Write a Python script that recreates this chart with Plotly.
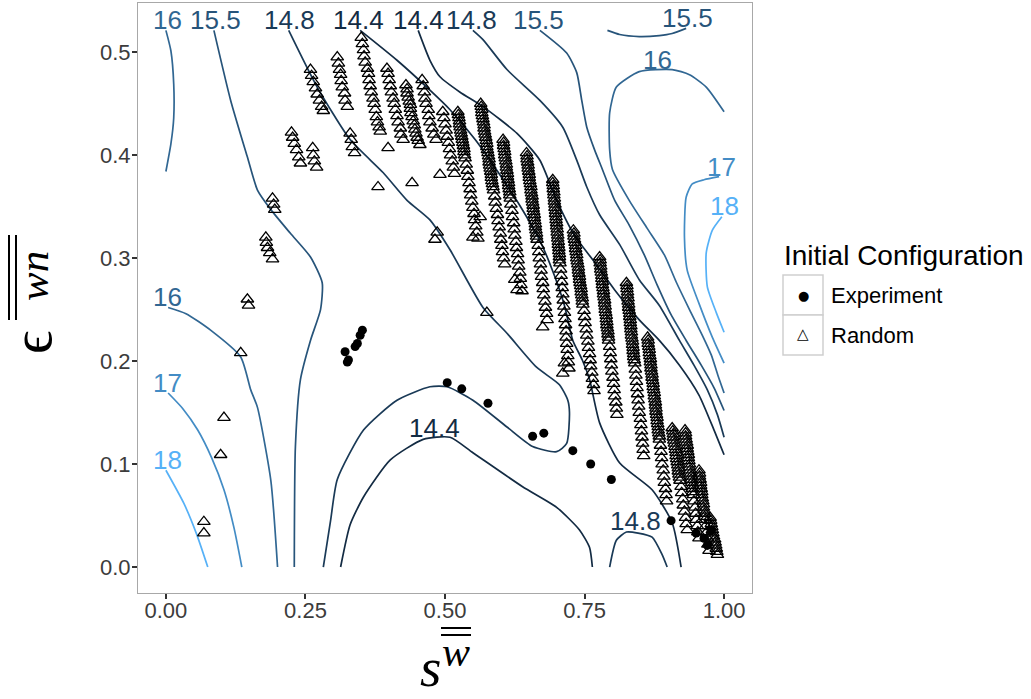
import plotly.graph_objects as go

# ---------------- contour lines (level -> path in data units) ----------------
l16_a_x = [0.000, 0.009, 0.014, 0.014, 0.009, 0.000]
l16_a_y = [0.521, 0.501, 0.469, 0.436, 0.411, 0.384]

l155_a_x = [0.086, 0.116, 0.146, 0.164, 0.188, 0.223, 0.259, 0.280, 0.277, 0.259, 0.241, 0.232, 0.230]
l155_a_y = [0.521, 0.453, 0.398, 0.366, 0.347, 0.324, 0.301, 0.276, 0.250, 0.220, 0.182, 0.117, 0.000]

l16_b_x = [0.004, 0.036, 0.080, 0.134, 0.152, 0.164, 0.188, 0.200]
l16_b_y = [0.252, 0.246, 0.230, 0.204, 0.172, 0.155, 0.084, 0.000]

l17_a_x = [0.004, 0.030, 0.057, 0.082, 0.104, 0.122, 0.136]
l17_a_y = [0.169, 0.154, 0.133, 0.106, 0.075, 0.038, 0.000]

l18_a_x = [0.000, 0.032, 0.055, 0.075]
l18_a_y = [0.094, 0.062, 0.032, 0.000]

l148_a_x = [0.220, 0.271, 0.330, 0.389, 0.432, 0.473, 0.509, 0.568, 0.611, 0.664, 0.705, 0.720,
            0.723, 0.718, 0.700, 0.657, 0.611, 0.550, 0.504, 0.473, 0.414, 0.354, 0.307, 0.295, 0.282]
l148_a_y = [0.521, 0.466, 0.415, 0.383, 0.356, 0.337, 0.308, 0.252, 0.227, 0.194, 0.177, 0.162,
            0.150, 0.120, 0.112, 0.117, 0.136, 0.162, 0.175, 0.175, 0.162, 0.133, 0.085, 0.045, 0.000]

l144_b_x = [0.313, 0.330, 0.354, 0.402, 0.461, 0.509, 0.550, 0.639, 0.700, 0.741, 0.759, 0.764]
l144_b_y = [0.000, 0.041, 0.068, 0.104, 0.124, 0.126, 0.111, 0.078, 0.058, 0.036, 0.019, 0.000]

l148_c_x = [0.795, 0.807, 0.825, 0.846, 0.871, 0.889, 0.898]
l148_c_y = [0.000, 0.026, 0.034, 0.033, 0.029, 0.012, 0.000]

l144_a_x = [0.348, 0.414, 0.473, 0.509, 0.554, 0.598, 0.634, 0.670, 0.696, 0.714, 0.729, 0.746,
            0.759, 0.777, 0.813, 0.871, 0.907, 0.923]
l144_a_y = [0.521, 0.492, 0.463, 0.444, 0.415, 0.381, 0.351, 0.317, 0.283, 0.254, 0.220, 0.201,
            0.182, 0.140, 0.101, 0.075, 0.043, 0.000]

l144_c_x = [0.452, 0.473, 0.491, 0.527, 0.568, 0.629, 0.670, 0.700, 0.732, 0.768, 0.804, 0.848,
            0.884, 0.920, 0.955, 0.982, 1.000]
l144_c_y = [0.521, 0.492, 0.476, 0.461, 0.447, 0.421, 0.395, 0.356, 0.322, 0.296, 0.269, 0.240,
            0.220, 0.196, 0.167, 0.133, 0.109]

l148_b_x = [0.550, 0.568, 0.611, 0.670, 0.711, 0.736, 0.754, 0.777, 0.813, 0.848, 0.884, 0.920,
            0.946, 0.970, 0.988, 1.000]
l148_b_y = [0.521, 0.512, 0.483, 0.453, 0.427, 0.395, 0.369, 0.342, 0.313, 0.279, 0.254, 0.220,
            0.196, 0.172, 0.148, 0.126]

l155_b_x = [0.670, 0.718, 0.736, 0.745, 0.754, 0.768, 0.782, 0.804, 0.830, 0.857, 0.880, 0.905,
            0.932, 0.959, 0.982, 1.000]
l155_b_y = [0.521, 0.499, 0.480, 0.453, 0.427, 0.405, 0.386, 0.356, 0.332, 0.303, 0.274, 0.245,
            0.220, 0.196, 0.174, 0.152]

l155_c_x = [0.791, 0.813, 0.848, 0.884, 0.907, 0.932]
l155_c_y = [0.521, 0.517, 0.515, 0.516, 0.518, 0.523]

l16_c_x = [1.000, 0.968, 0.938, 0.907, 0.848, 0.807, 0.795, 0.795, 0.800, 0.830, 0.862, 0.893,
           0.914, 0.938, 0.961, 0.977, 0.989, 1.000]
l16_c_y = [0.442, 0.466, 0.478, 0.483, 0.481, 0.466, 0.441, 0.405, 0.386, 0.356, 0.329, 0.303,
           0.277, 0.250, 0.225, 0.206, 0.186, 0.169]

l17_b_x = [0.991, 0.964, 0.943, 0.932, 0.929, 0.934, 0.955, 0.979, 1.000]
l17_b_y = [0.379, 0.376, 0.372, 0.359, 0.320, 0.288, 0.256, 0.223, 0.198]

l18_b_x = [0.996, 0.979, 0.968, 0.970, 0.986, 1.000]
l18_b_y = [0.340, 0.327, 0.305, 0.272, 0.247, 0.228]

contour_paths = [
    (16.0, l16_a_x, l16_a_y), (15.5, l155_a_x, l155_a_y), (16.0, l16_b_x, l16_b_y),
    (17.0, l17_a_x, l17_a_y), (18.0, l18_a_x, l18_a_y), (14.8, l148_a_x, l148_a_y),
    (14.4, l144_b_x, l144_b_y), (14.8, l148_c_x, l148_c_y), (14.4, l144_a_x, l144_a_y),
    (14.4, l144_c_x, l144_c_y), (14.8, l148_b_x, l148_b_y), (15.5, l155_b_x, l155_b_y),
    (15.5, l155_c_x, l155_c_y), (16.0, l16_c_x, l16_c_y), (17.0, l17_b_x, l17_b_y),
    (18.0, l18_b_x, l18_b_y),
]

# contour labels
label_text = ["16", "15.5", "14.8", "14.4", "14.4", "14.8", "15.5", "15.5", "16", "17", "18",
              "16", "17", "18", "14.4", "14.8"]
label_level = [16.0, 15.5, 14.8, 14.4, 14.4, 14.8, 15.5, 15.5, 16.0, 17.0, 18.0,
               16.0, 17.0, 18.0, 14.4, 14.8]
label_x = [0.002, 0.089, 0.221, 0.345, 0.452, 0.548, 0.668, 0.934, 0.880, 0.996, 1.000,
           0.002, 0.002, 0.002, 0.482, 0.841]
label_y = [0.531, 0.531, 0.531, 0.531, 0.531, 0.531, 0.531, 0.533, 0.492, 0.388, 0.351,
           0.262, 0.179, 0.104, 0.135, 0.045]

# ---------------- simulation end points ----------------
experiment_x = [0.352, 0.348, 0.343, 0.339, 0.321, 0.327, 0.325, 0.504, 0.530, 0.577, 0.657, 0.677,
                0.729, 0.761, 0.798, 0.905, 0.950, 0.964, 0.970, 0.977]
experiment_y = [0.230, 0.225, 0.217, 0.214, 0.209, 0.201, 0.199, 0.179, 0.173, 0.159, 0.127, 0.130,
                0.113, 0.100, 0.085, 0.045, 0.033, 0.028, 0.021, 0.036]

# random starts: scattered points on the left side and upper-left stacks
random_x = [
    0.068, 0.068, 0.098, 0.104, 0.134, 0.146, 0.148, 0.179, 0.180, 0.182, 0.186, 0.191, 0.191, 0.193, 0.195,
    0.225, 0.227, 0.230, 0.234, 0.238, 0.241, 0.263, 0.264, 0.266, 0.270, 0.330, 0.332, 0.334, 0.338,
    0.259, 0.261, 0.264, 0.268, 0.271, 0.275, 0.279, 0.282,
    0.307, 0.309, 0.311, 0.313, 0.314, 0.316, 0.320, 0.321, 0.325,
    0.350, 0.352, 0.354, 0.355, 0.357, 0.361, 0.363, 0.364, 0.366, 0.368, 0.371, 0.373, 0.375, 0.377,
    0.379, 0.382, 0.384,
    0.396, 0.398, 0.400, 0.402, 0.404, 0.407, 0.409, 0.411, 0.414, 0.416, 0.420, 0.421, 0.425,
    0.398, 0.380, 0.441,
    0.430, 0.432, 0.432, 0.434, 0.436, 0.438, 0.438, 0.439, 0.441, 0.443, 0.445, 0.446, 0.448, 0.450,
    0.452, 0.455,
    0.459, 0.461, 0.463, 0.464, 0.466, 0.470, 0.471, 0.473, 0.477, 0.480, 0.484,
    0.491, 0.486, 0.482,
    0.496, 0.498, 0.500, 0.502, 0.504, 0.506, 0.508, 0.510, 0.513, 0.515, 0.517,
    0.550, 0.563, 0.575, 0.625, 0.629, 0.675, 0.714, 0.711,
]
random_y = [
    0.044, 0.033, 0.109, 0.145, 0.208, 0.260, 0.254, 0.320, 0.315, 0.310, 0.305, 0.299, 0.358, 0.352, 0.347,
    0.422, 0.417, 0.411, 0.405, 0.398, 0.392, 0.407, 0.400, 0.394, 0.388, 0.421, 0.415, 0.408, 0.402,
    0.483, 0.477, 0.471, 0.465, 0.459, 0.453, 0.447, 0.443,
    0.495, 0.489, 0.483, 0.478, 0.472, 0.466, 0.460, 0.453, 0.447,
    0.514, 0.508, 0.502, 0.496, 0.490, 0.484, 0.479, 0.473, 0.467, 0.461, 0.455, 0.450, 0.444, 0.437,
    0.432, 0.427, 0.423,
    0.484, 0.479, 0.473, 0.467, 0.461, 0.455, 0.450, 0.444, 0.438, 0.432, 0.426, 0.420, 0.415,
    0.407, 0.369, 0.373,
    0.468, 0.464, 0.460, 0.456, 0.452, 0.449, 0.445, 0.441, 0.437, 0.433, 0.429, 0.425, 0.421, 0.417,
    0.414, 0.410,
    0.473, 0.467, 0.461, 0.455, 0.450, 0.444, 0.438, 0.432, 0.426, 0.420, 0.415,
    0.381, 0.325, 0.318,
    0.442, 0.436, 0.430, 0.424, 0.418, 0.412, 0.406, 0.400, 0.394, 0.388, 0.382,
    0.320, 0.340, 0.247, 0.279, 0.269, 0.233, 0.198, 0.188,
]

# random starts along the diagonal ridge, one stack per list
stack1_x = [0.523, 0.524, 0.525, 0.526, 0.526, 0.527, 0.528, 0.529, 0.530, 0.531, 0.532, 0.533, 0.534, 0.534,
            0.535, 0.536, 0.538, 0.540, 0.541, 0.543, 0.545, 0.546, 0.548, 0.550, 0.552, 0.553, 0.555, 0.557, 0.559]
stack1_y = [0.442, 0.439, 0.436, 0.433, 0.430, 0.427, 0.424, 0.421, 0.418, 0.415, 0.412, 0.409, 0.406, 0.403,
            0.400, 0.397, 0.391, 0.385, 0.379, 0.373, 0.367, 0.361, 0.355, 0.349, 0.343, 0.337, 0.331, 0.325, 0.319]

stack2_x = [0.564, 0.565, 0.566, 0.566, 0.567, 0.568, 0.569, 0.570, 0.570, 0.571, 0.572, 0.573, 0.574, 0.575,
            0.575, 0.576, 0.577, 0.578, 0.579, 0.579, 0.580, 0.581, 0.582, 0.583, 0.583, 0.584, 0.585, 0.586,
            0.587, 0.589, 0.590, 0.592, 0.594, 0.595, 0.597, 0.599, 0.600, 0.602, 0.603, 0.605, 0.607]
stack2_y = [0.450, 0.447, 0.444, 0.441, 0.438, 0.435, 0.432, 0.429, 0.426, 0.423, 0.420, 0.417, 0.414, 0.411,
            0.408, 0.405, 0.402, 0.399, 0.396, 0.393, 0.390, 0.387, 0.384, 0.381, 0.378, 0.375, 0.372, 0.369,
            0.366, 0.360, 0.354, 0.348, 0.342, 0.336, 0.330, 0.324, 0.318, 0.312, 0.306, 0.300, 0.294]

stack3_x = [0.604, 0.605, 0.605, 0.606, 0.607, 0.607, 0.608, 0.609, 0.610, 0.610, 0.611, 0.612, 0.612, 0.613,
            0.614, 0.614, 0.615, 0.616, 0.616, 0.617, 0.618, 0.620, 0.621, 0.623, 0.624, 0.625, 0.627, 0.628,
            0.630, 0.631, 0.632, 0.634, 0.635, 0.636, 0.638]
stack3_y = [0.415, 0.412, 0.409, 0.406, 0.403, 0.400, 0.397, 0.394, 0.391, 0.388, 0.385, 0.382, 0.379, 0.376,
            0.373, 0.370, 0.367, 0.364, 0.361, 0.358, 0.352, 0.346, 0.340, 0.334, 0.328, 0.322, 0.316, 0.310,
            0.304, 0.298, 0.292, 0.286, 0.280, 0.274, 0.268]

stack4_x = [0.646, 0.647, 0.647, 0.648, 0.649, 0.649, 0.650, 0.651, 0.651, 0.652, 0.653, 0.654, 0.654, 0.655,
            0.656, 0.656, 0.657, 0.658, 0.658, 0.659, 0.660, 0.660, 0.661, 0.662, 0.662, 0.663, 0.664, 0.664,
            0.665, 0.667, 0.668, 0.669, 0.671, 0.672, 0.673, 0.675, 0.676, 0.677, 0.679, 0.680, 0.682, 0.683]
stack4_y = [0.402, 0.399, 0.396, 0.393, 0.390, 0.387, 0.384, 0.381, 0.378, 0.375, 0.372, 0.369, 0.366, 0.363,
            0.360, 0.357, 0.354, 0.351, 0.348, 0.345, 0.342, 0.339, 0.336, 0.333, 0.330, 0.327, 0.324, 0.321,
            0.318, 0.312, 0.306, 0.300, 0.294, 0.288, 0.282, 0.276, 0.270, 0.264, 0.258, 0.252, 0.246, 0.240]

stack5_x = [0.693, 0.693, 0.694, 0.694, 0.695, 0.695, 0.696, 0.696, 0.697, 0.697, 0.698, 0.698, 0.699, 0.699,
            0.700, 0.700, 0.701, 0.701, 0.702, 0.702, 0.703, 0.703, 0.704, 0.704, 0.705, 0.705, 0.705, 0.706,
            0.707, 0.708, 0.709, 0.710, 0.711, 0.712, 0.713, 0.714, 0.715, 0.716, 0.717, 0.717, 0.718, 0.719,
            0.720, 0.721, 0.722]
stack5_y = [0.376, 0.373, 0.370, 0.367, 0.364, 0.361, 0.358, 0.355, 0.352, 0.349, 0.346, 0.343, 0.340, 0.337,
            0.334, 0.331, 0.328, 0.325, 0.322, 0.319, 0.316, 0.313, 0.310, 0.307, 0.304, 0.301, 0.298, 0.295,
            0.289, 0.283, 0.277, 0.271, 0.265, 0.259, 0.253, 0.247, 0.241, 0.235, 0.229, 0.223, 0.217, 0.211,
            0.205, 0.199, 0.193]

stack6_x = [0.730, 0.731, 0.731, 0.732, 0.733, 0.734, 0.734, 0.735, 0.736, 0.736, 0.737, 0.738, 0.739, 0.739,
            0.740, 0.741, 0.741, 0.742, 0.743, 0.744, 0.744, 0.745, 0.746, 0.746, 0.747, 0.749, 0.750, 0.751,
            0.753, 0.754, 0.756, 0.757, 0.759, 0.760, 0.761, 0.763, 0.764, 0.766, 0.767]
stack6_y = [0.327, 0.324, 0.321, 0.318, 0.315, 0.312, 0.309, 0.306, 0.303, 0.300, 0.297, 0.294, 0.291, 0.288,
            0.285, 0.282, 0.279, 0.276, 0.273, 0.270, 0.267, 0.264, 0.261, 0.258, 0.255, 0.249, 0.243, 0.237,
            0.231, 0.225, 0.219, 0.213, 0.207, 0.201, 0.195, 0.189, 0.183, 0.177, 0.171]

stack7_x = [0.777, 0.778, 0.778, 0.779, 0.779, 0.780, 0.781, 0.781, 0.782, 0.782, 0.783, 0.784, 0.784, 0.785,
            0.786, 0.786, 0.787, 0.787, 0.788, 0.789, 0.789, 0.790, 0.790, 0.791, 0.792, 0.792, 0.793, 0.793,
            0.795, 0.796, 0.797, 0.798, 0.799, 0.801, 0.802, 0.803, 0.804, 0.806, 0.807, 0.808]
stack7_y = [0.301, 0.298, 0.295, 0.292, 0.289, 0.286, 0.283, 0.280, 0.277, 0.274, 0.271, 0.268, 0.265, 0.262,
            0.259, 0.256, 0.253, 0.250, 0.247, 0.244, 0.241, 0.238, 0.235, 0.232, 0.229, 0.226, 0.223, 0.220,
            0.214, 0.208, 0.202, 0.196, 0.190, 0.184, 0.178, 0.172, 0.166, 0.160, 0.154, 0.148]

stack8_x = [0.825, 0.826, 0.826, 0.827, 0.827, 0.828, 0.828, 0.829, 0.829, 0.830, 0.831, 0.831, 0.832, 0.832,
            0.833, 0.833, 0.834, 0.834, 0.835, 0.836, 0.836, 0.837, 0.837, 0.838, 0.838, 0.839, 0.840,
            0.841, 0.842, 0.843, 0.844, 0.845, 0.846, 0.847, 0.848, 0.850, 0.851, 0.852, 0.853, 0.854, 0.855, 0.856]
stack8_y = [0.276, 0.273, 0.270, 0.267, 0.264, 0.261, 0.258, 0.255, 0.252, 0.249, 0.246, 0.243, 0.240, 0.237,
            0.234, 0.231, 0.228, 0.225, 0.222, 0.219, 0.216, 0.213, 0.210, 0.207, 0.204, 0.201, 0.198,
            0.192, 0.186, 0.180, 0.174, 0.168, 0.162, 0.156, 0.150, 0.144, 0.138, 0.132, 0.126, 0.120, 0.114, 0.108]

stack9_x = [0.863, 0.864, 0.864, 0.865, 0.866, 0.866, 0.867, 0.868, 0.868, 0.869, 0.869, 0.870, 0.871, 0.871,
            0.872, 0.873, 0.873, 0.874, 0.875, 0.875, 0.876, 0.877, 0.877, 0.878, 0.878, 0.879, 0.880, 0.880,
            0.881, 0.882, 0.882, 0.883, 0.884, 0.884, 0.886, 0.887, 0.888, 0.889, 0.891, 0.892, 0.893, 0.895,
            0.896, 0.897]
stack9_y = [0.223, 0.220, 0.217, 0.214, 0.211, 0.208, 0.205, 0.202, 0.199, 0.196, 0.193, 0.190, 0.187, 0.184,
            0.181, 0.178, 0.175, 0.172, 0.169, 0.166, 0.163, 0.160, 0.157, 0.154, 0.151, 0.148, 0.145, 0.142,
            0.139, 0.136, 0.133, 0.130, 0.127, 0.124, 0.118, 0.112, 0.106, 0.100, 0.094, 0.088, 0.082, 0.076,
            0.070, 0.064]

stack10_x = [0.907, 0.908, 0.909, 0.909, 0.910, 0.911, 0.912, 0.913, 0.914, 0.914, 0.915, 0.916, 0.917, 0.918,
             0.918, 0.919, 0.920, 0.921, 0.923, 0.924, 0.926, 0.927, 0.929, 0.931, 0.932, 0.934]
stack10_y = [0.135, 0.132, 0.129, 0.126, 0.123, 0.120, 0.117, 0.114, 0.111, 0.108, 0.105, 0.102, 0.099, 0.096,
             0.093, 0.090, 0.087, 0.084, 0.078, 0.072, 0.066, 0.060, 0.054, 0.048, 0.042, 0.036]

stack11_x = [0.930, 0.931, 0.931, 0.932, 0.933, 0.934, 0.934, 0.935, 0.936, 0.936, 0.937, 0.938, 0.938, 0.939,
             0.940, 0.941, 0.941, 0.942, 0.943, 0.943, 0.944, 0.945, 0.946, 0.948, 0.949, 0.950, 0.952, 0.953, 0.955]
stack11_y = [0.133, 0.130, 0.127, 0.124, 0.121, 0.118, 0.115, 0.112, 0.109, 0.106, 0.103, 0.100, 0.097, 0.094,
             0.091, 0.088, 0.085, 0.082, 0.079, 0.076, 0.073, 0.070, 0.064, 0.058, 0.052, 0.046, 0.040, 0.034, 0.028]

stack12_x = [0.955, 0.956, 0.956, 0.957, 0.958, 0.958, 0.959, 0.960, 0.960, 0.961, 0.962, 0.963, 0.963, 0.964,
             0.965, 0.965, 0.966, 0.967, 0.969, 0.970, 0.971, 0.973]
stack12_y = [0.094, 0.091, 0.088, 0.085, 0.082, 0.079, 0.076, 0.073, 0.070, 0.067, 0.064, 0.061, 0.058, 0.055,
             0.052, 0.049, 0.046, 0.040, 0.034, 0.028, 0.022, 0.016]

stack13_x = [0.975, 0.976, 0.977, 0.978, 0.979, 0.980, 0.981, 0.983, 0.984, 0.985, 0.986, 0.987, 0.988]
stack13_y = [0.048, 0.045, 0.042, 0.039, 0.036, 0.033, 0.030, 0.027, 0.024, 0.021, 0.018, 0.015, 0.012]

stacks = [(stack1_x, stack1_y), (stack2_x, stack2_y), (stack3_x, stack3_y), (stack4_x, stack4_y),
          (stack5_x, stack5_y), (stack6_x, stack6_y), (stack7_x, stack7_y), (stack8_x, stack8_y),
          (stack9_x, stack9_y), (stack10_x, stack10_y), (stack11_x, stack11_y), (stack12_x, stack12_y),
          (stack13_x, stack13_y)]

all_random_x = list(random_x)
all_random_y = list(random_y)
for sx, sy in stacks:
    all_random_x += sx
    all_random_y += sy

x_ticks = [0.0, 0.25, 0.5, 0.75, 1.0]
x_ticklabels = ["0.00", "0.25", "0.50", "0.75", "1.00"]
y_ticks = [0.0, 0.1, 0.2, 0.3, 0.4, 0.5]
y_ticklabels = ["0.0", "0.1", "0.2", "0.3", "0.4", "0.5"]

LOW, HIGH = (19, 43, 67), (86, 177, 247)
LEV_MIN, LEV_MAX = 14.4, 18.0


def level_color(v):
    t = (v - LEV_MIN) / (LEV_MAX - LEV_MIN)
    r, g, b = (round(a + (c - a) * t) for a, c in zip(LOW, HIGH))
    return f"rgb({r},{g},{b})"


fig = go.Figure()

for lev, xs, ys in contour_paths:
    fig.add_trace(go.Scatter(x=xs, y=ys, mode="lines",
                             line=dict(color=level_color(lev), width=1.7, shape="spline", smoothing=0.6),
                             hoverinfo="skip", showlegend=False))

fig.add_trace(go.Scatter(x=all_random_x, y=all_random_y, mode="markers", name="Random", showlegend=False,
                         marker=dict(symbol="triangle-up-open", size=11, color="black", line=dict(width=1.3))))
fig.add_trace(go.Scatter(x=experiment_x, y=experiment_y, mode="markers", name="Experiment", showlegend=False,
                         marker=dict(symbol="circle", size=9, color="black")))

for t, lev, lx, ly in zip(label_text, label_level, label_x, label_y):
    fig.add_annotation(x=lx, y=ly, text=t, showarrow=False, xref="x", yref="y", xanchor="center",
                       yanchor="middle", font=dict(family="Liberation Sans, Arial", size=26,
                                                   color=level_color(lev)))

# plot panel spans 138..752 px horizontally, 3..593 px vertically
PL, PR, PT, PB = 138, 752, 3, 593


def px(xp):
    return (xp - PL) / (PR - PL)


def py(yp):
    return (PB - yp) / (PB - PT)


def note(xp, yp, text, size, family, angle=0, xanchor="center"):
    fig.add_annotation(x=px(xp), y=py(yp), xref="paper", yref="paper", text=text, showarrow=False,
                       xanchor=xanchor, yanchor="middle", textangle=angle,
                       font=dict(family=family, size=size, color="black"))


serif = "Liberation Serif, Times New Roman, serif"
sans = "Liberation Sans, Arial, sans-serif"

# x-axis title: s with a doubly over-lined w superscript
note(430, 667.5, "<i>s</i>", 55, serif)
note(456, 652, "<i>w</i>", 42, serif)
for yy in (628, 635):
    fig.add_shape(type="line", xref="paper", yref="paper", x0=px(441), x1=px(471), y0=py(yy), y1=py(yy),
                  line=dict(color="black", width=2))

# y-axis title: epsilon with a doubly over-lined wn superscript (rotated)
note(31, 343, "ϵ", 58, serif, angle=-90)
note(33, 276, "<i>wn</i>", 43, serif, angle=-90)
for xx in (9, 16):
    fig.add_shape(type="line", xref="paper", yref="paper", x0=px(xx), x1=px(xx), y0=py(235), y1=py(320),
                  line=dict(color="black", width=2))

# legend drawn by hand
note(782, 255, "Initial Configuration", 28, sans, xanchor="left")
for y0, y1 in ((275, 315), (315, 355)):
    fig.add_shape(type="rect", xref="paper", yref="paper", x0=px(783), x1=px(823), y0=py(y1), y1=py(y0),
                  line=dict(color="#cfcfcf", width=1.5), fillcolor="white", layer="below")
note(803, 295, "●", 13, "DejaVu Sans")
note(803, 334, "△", 15, "DejaVu Sans")
note(829, 295, "Experiment", 22, sans, xanchor="left")
note(829, 335, "Random", 22, sans, xanchor="left")

axis_common = dict(showgrid=False, zeroline=False, showline=True, mirror=True, linecolor="#a8a8a8",
                   linewidth=1.2, ticks="outside", ticklen=5, tickwidth=1.5, tickcolor="#333333",
                   tickfont=dict(family=sans, size=22, color="#3c3c3c"))
fig.update_xaxes(range=[-0.05, 1.05], tickvals=x_ticks, ticktext=x_ticklabels, ticklabelstandoff=-8,
                 **axis_common)
fig.update_yaxes(range=[-0.0252, 0.5476], tickvals=y_ticks, ticktext=y_ticklabels, ticklabelstandoff=-3,
                 **axis_common)

fig.update_layout(width=1031, height=699, margin=dict(l=PL, r=1031 - PR, t=PT, b=699 - PB),
                  plot_bgcolor="white", paper_bgcolor="white", showlegend=False)

fig.write_html("out.html")
